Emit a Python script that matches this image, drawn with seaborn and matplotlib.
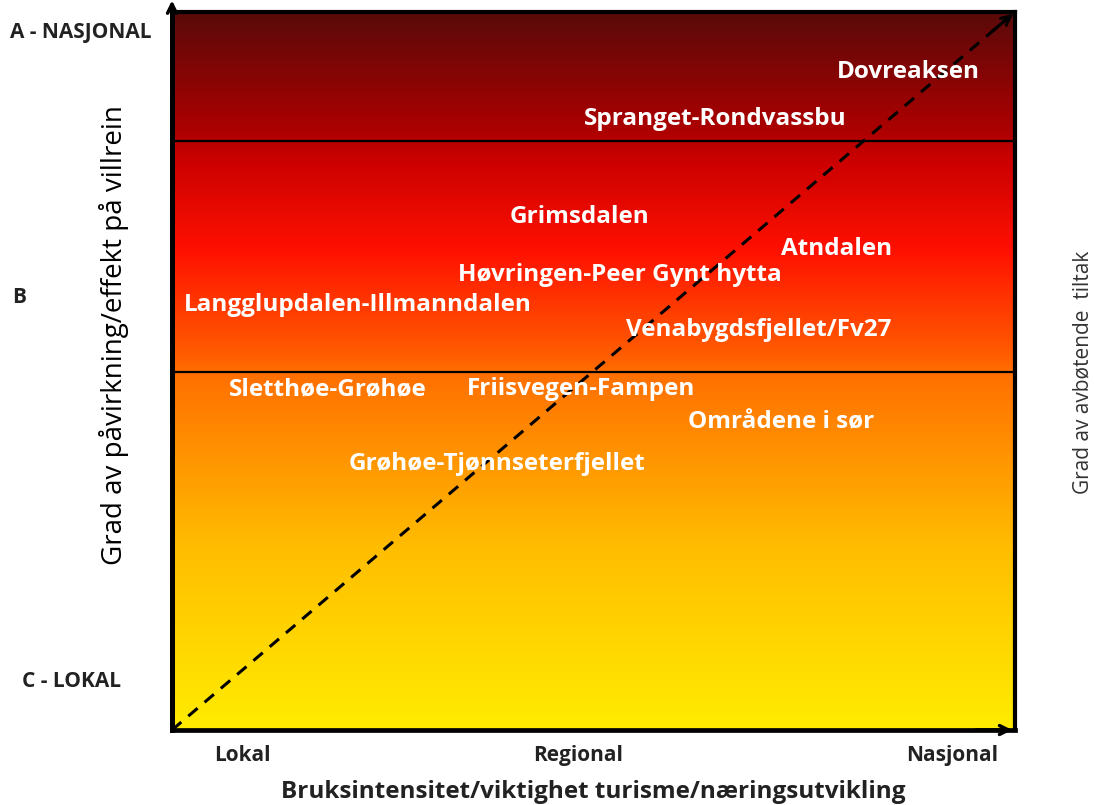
import numpy as np
import pandas as pd
import matplotlib
matplotlib.use("Agg")
import matplotlib.pyplot as plt
from matplotlib.colors import LinearSegmentedColormap
import seaborn as sns

# ---- data ----
names = ["Dovreaksen", "Spranget-Rondvassbu", "Grimsdalen", "Atndalen",
         "Høvringen-Peer Gynt hytta", "Langglupdalen-Illmanndalen",
         "Venabygdsfjellet/Fv27", "Sletthøe-Grøhøe", "Friisvegen-Fampen",
         "Områdene i sør", "Grøhøe-Tjønnseterfjellet"]
x_use = [0.873, 0.645, 0.483, 0.788, 0.531, 0.221, 0.696, 0.185, 0.485, 0.722, 0.386]
y_impact = [0.916, 0.851, 0.714, 0.670, 0.634, 0.592, 0.557, 0.475, 0.475, 0.428, 0.370]
band_limits = [0.820, 0.4986]
x_tick_pos = [0.084, 0.482, 0.926]
x_tick_labels = ["Lokal", "Regional", "Nasjonal"]
y_level_labels = ["A - NASJONAL", "B", "C - LOKAL"]
y_level_pos = [0.971, 0.603, 0.067]
diag_x = [0.0, 1.0]
diag_y = [0.0, 1.0]

sns.set_theme(style="white")
plt.rcParams['font.family'] = ['Open Sans', 'DejaVu Sans']

fig = plt.figure(figsize=(10.94, 8.05), dpi=100)
ax = fig.add_axes([172/1094, 75/805, 843/1094, 718/805])

# gradient background
stops = [(0.0, "#ffec00"), (0.25, "#ffbe00"), (0.50, "#ff6e00"), (0.52, "#ff5e00"),
         (0.67, "#ff1000"), (0.80, "#c80000"), (0.83, "#b00000"), (1.0, "#5a0a0a")]
cmap = LinearSegmentedColormap.from_list("grad", stops)
grad = np.linspace(0, 1, 512).reshape(-1, 1)
ax.imshow(grad, cmap=cmap, aspect="auto", extent=[0, 1, 0, 1], origin="lower", zorder=0)

for yl in band_limits:
    ax.axhline(yl, color="black", lw=1.6, zorder=2)

diag = pd.DataFrame({"x": diag_x, "y": diag_y})
sns.lineplot(data=diag, x="x", y="y", ax=ax, color="black", lw=2.2,
             linestyle=(0, (4, 3)), zorder=3)

df = pd.DataFrame({"name": names, "x": x_use, "y": y_impact})
for _, r in df.iterrows():
    ax.text(r.x, r.y, r["name"], color="white", fontsize=17.5, fontweight="bold",
            ha="center", va="center", zorder=4)

ax.set_xlim(0, 1)
ax.set_ylim(0, 1)
ax.set_xticks(x_tick_pos)
ax.set_xticklabels(x_tick_labels, fontsize=15, fontweight="bold", color="#222222")
ax.tick_params(axis="x", length=0, pad=11)
ax.set_yticks([])
ax.set_ylabel("")
ax.set_xlabel("Bruksintensitet/viktighet turisme/næringsutvikling", fontsize=17.5,
              fontweight="bold", color="#222222", labelpad=10)
for s in ax.spines.values():
    s.set_color("black")
    s.set_linewidth(3)
ax.spines["left"].set_linewidth(3.6)
ax.spines["bottom"].set_linewidth(3.4)

# level labels on left
lx = [10/1094, 12/1094, 22/1094]
for lab, yp, xx in zip(y_level_labels, y_level_pos, lx):
    fig.text(xx, (75 + yp*718)/805, lab, fontsize=15, fontweight="bold",
             color="#222222", ha="left", va="center")

fig.text(114/1094, (805-335)/805, "Grad av påvirkning/effekt på villrein", rotation=90,
         fontsize=20, color="black", ha="center", va="center")
fig.text(1083/1094, (805-372)/805, "Grad av avbøtende  tiltak", rotation=90,
         fontsize=15, color="#333333", ha="center", va="center")

# arrows
ax.annotate("", xy=(0, 1.02), xytext=(0, 0.95), xycoords="axes fraction",
            arrowprops=dict(arrowstyle="->", lw=2.5, color="black", mutation_scale=16),
            annotation_clip=False)
ax.annotate("", xy=(1.0, 0.0), xytext=(0.95, 0.0), xycoords="axes fraction",
            arrowprops=dict(arrowstyle="->", lw=2.5, color="black", mutation_scale=16),
            annotation_clip=False)
ax.annotate("", xy=(1.0, 1.0), xytext=(0.97, 0.97), xycoords="axes fraction",
            arrowprops=dict(arrowstyle="->", lw=2.2, color="black", mutation_scale=16),
            annotation_clip=False)

fig.savefig("out.png", dpi=100)
